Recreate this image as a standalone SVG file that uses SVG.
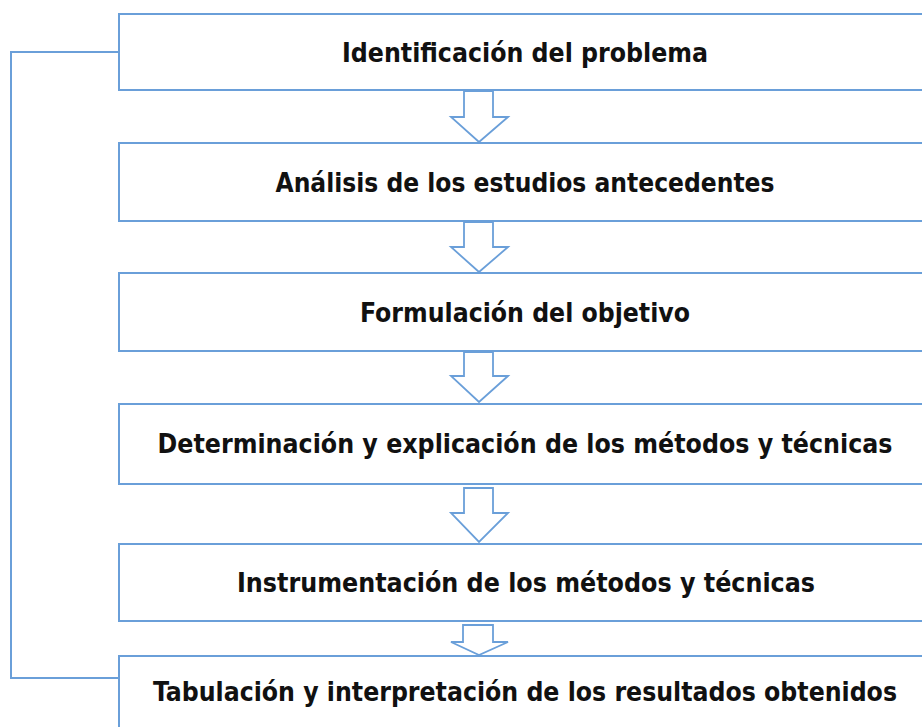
<svg xmlns="http://www.w3.org/2000/svg" width="922" height="727" viewBox="0 0 922 727">
<defs>
<style>
.box{fill:#ffffff;stroke:#6a9fd9;stroke-width:2}
.arr{fill:#ffffff;stroke:#6a9fd9;stroke-width:1.8;stroke-linejoin:miter}
.ln{fill:none;stroke:#6a9fd9;stroke-width:2}
.t{font-family:"DejaVu Sans Condensed","DejaVu Sans",sans-serif;font-stretch:condensed;font-weight:bold;font-size:26px;fill:#111;text-anchor:middle}
</style>
</defs>
<rect width="922" height="727" fill="#ffffff"/>
<g id="n1"><rect class="box" x="119" y="14" width="820" height="76"/><text class="t" x="525" y="62" textLength="366" lengthAdjust="spacingAndGlyphs">Identificación  del problema</text></g>
<g id="n2"><rect class="box" x="119" y="143" width="820" height="78"/><text class="t" x="525" y="192" textLength="499" lengthAdjust="spacingAndGlyphs">Análisis de los estudios antecedentes</text></g>
<g id="n3"><rect class="box" x="119" y="273" width="820" height="78"/><text class="t" x="525" y="322" textLength="330" lengthAdjust="spacingAndGlyphs">Formulación del objetivo</text></g>
<g id="n4"><rect class="box" x="119" y="404" width="820" height="80"/><text class="t" x="525" y="453" textLength="735" lengthAdjust="spacingAndGlyphs">Determinación  y explicación de los métodos y técnicas</text></g>
<g id="n5"><rect class="box" x="119" y="544" width="820" height="77"/><text class="t" x="526" y="592" textLength="578" lengthAdjust="spacingAndGlyphs">Instrumentación  de los métodos y técnicas</text></g>
<g id="n6"><rect class="box" x="119" y="656" width="820" height="90"/><text class="t" x="525" y="701" textLength="744" lengthAdjust="spacingAndGlyphs">Tabulación y interpretación de los resultados obtenidos</text></g>
<g id="connectors">
<path class="arr" d="M464 91 L493 91 L493 117 L508 117 L479 142 L451 117 L464 117 Z"/>
<path class="arr" d="M464 222 L493 222 L493 247 L508 247 L479 272 L451 247 L464 247 Z"/>
<path class="arr" d="M464 352 L493 352 L493 376 L508 376 L479 402 L451 376 L464 376 Z"/>
<path class="arr" d="M464 488 L493 488 L493 513 L508 513 L479 542 L451 513 L464 513 Z"/>
<path class="arr" d="M463 625 L493 625 L493 642 L508 642 L479 655 L451 642 L463 642 Z"/>
<path class="ln" d="M119 52 L11 52 L11 678 L119 678"/>
</g>
</svg>
